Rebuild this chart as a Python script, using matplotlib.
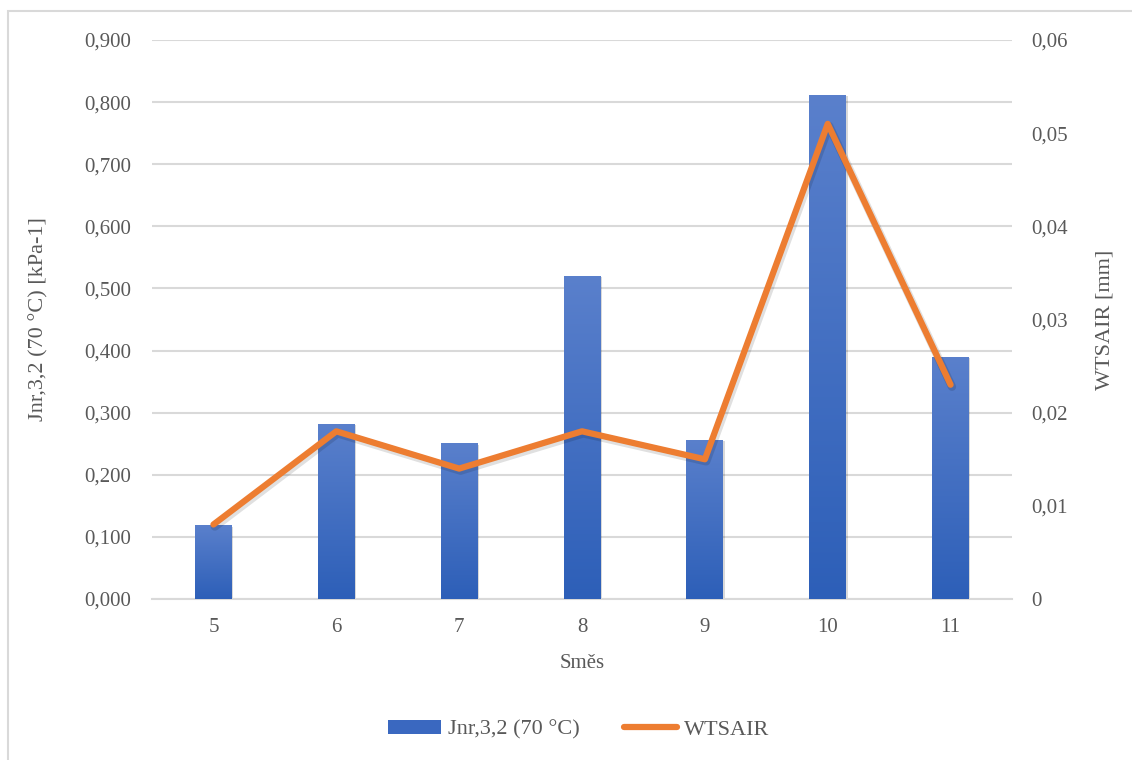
import matplotlib.pyplot as plt
import matplotlib.patheffects as pe
from matplotlib.patches import Rectangle, Patch
from matplotlib.lines import Line2D
from matplotlib.ticker import FuncFormatter, MultipleLocator
from matplotlib.colors import LinearSegmentedColormap
import numpy as np

plt.rcParams['font.family'] = ['Liberation Serif', 'DejaVu Serif']

smes = ['5', '6', '7', '8', '9', '10', '11']
jnr = [0.119, 0.282, 0.251, 0.520, 0.256, 0.812, 0.390]
wtsair = [0.008, 0.018, 0.014, 0.018, 0.015, 0.051, 0.023]

text_col = '#595959'
grid_col = '#d9d9d9'
orange = '#ED7D31'

fig = plt.figure(figsize=(11.32, 7.6), dpi=100)
ax = fig.add_axes([0.1343, 0.2118, 0.7597, 0.7356])
ax2 = ax.twinx()

x = np.arange(len(smes))
bars = ax.bar(x, jnr, width=0.30, color='#4472C4', zorder=2,
              path_effects=[pe.SimplePatchShadow(offset=(1, -1), shadow_rgbFace='#000000', alpha=0.15),
                            pe.Normal()])

# vertical gradient inside each bar
grad = np.linspace(0, 1, 256).reshape(-1, 1)
cmap = LinearSegmentedColormap.from_list('bar', ['#2d5fb8', '#5a80cc'])
for b in bars:
    x0, y0 = b.get_x(), b.get_y()
    w, h = b.get_width(), b.get_height()
    im = ax.imshow(grad, cmap=cmap, origin='lower', aspect='auto',
                   extent=[x0, x0 + w, y0, y0 + h], zorder=3)
    im.set_clip_path(b)

ax.set_xlim(-0.5, len(smes) - 0.5)
ax.set_ylim(0, 0.9)
ax.yaxis.set_major_locator(MultipleLocator(0.1))
ax.yaxis.set_major_formatter(FuncFormatter(lambda v, p: f'{v:.3f}'.replace('.', ',')))
ax.set_xticks(x)
ax.set_xticklabels(smes)
ax.grid(axis='y', color=grid_col, linewidth=1.5, zorder=0)
ax.set_axisbelow(True)

ax2.plot(x, wtsair, color=orange, linewidth=4.5, solid_capstyle='round',
         solid_joinstyle='round', zorder=5,
         path_effects=[pe.SimpleLineShadow(offset=(1, -1.5), alpha=0.12, linewidth=6), pe.Normal()])
ax2.set_ylim(0, 0.06)
ax2.yaxis.set_major_locator(MultipleLocator(0.01))
ax2.yaxis.set_major_formatter(FuncFormatter(lambda v, p: '0' if v == 0 else f'{v:.2f}'.replace('.', ',')))

for a in (ax, ax2):
    for s in a.spines.values():
        s.set_visible(False)
    a.tick_params(length=0, labelsize=15, colors=text_col)
ax.tick_params(axis='y', pad=15)
ax.tick_params(axis='x', pad=14)
ax2.tick_params(axis='y', pad=14)
ax.spines['bottom'].set_visible(True)
ax.spines['bottom'].set_color(grid_col)
ax.spines['bottom'].set_linewidth(1.5)

ax.set_xlabel('Směs', fontsize=15, color=text_col, labelpad=12)
ax.set_ylabel('Jnr,3,2 (70 °C) [kPa-1]', fontsize=16, color=text_col, labelpad=26)
ax2.set_ylabel('WTSAIR [mm]', fontsize=16, color=text_col, labelpad=20)

handles = [Patch(facecolor='#3a68c0', edgecolor='none'),
           Line2D([0], [0], color=orange, linewidth=4.5, solid_capstyle='round')]
fig.legend(handles, ['Jnr,3,2 (70 °C)', 'WTSAIR'], loc='center', bbox_to_anchor=(0.511, 0.04),
           ncol=2, frameon=False, fontsize=16, labelcolor=text_col, handlelength=2.4,
           handleheight=0.6, columnspacing=2.0, handletextpad=0.3)

fig.patches.append(Rectangle((8 / 1132, -0.05), 1.2, 1 - 11 / 760 + 0.05, transform=fig.transFigure,
                             fill=False, edgecolor=grid_col, linewidth=1.5))

fig.savefig('out.png', dpi=100)
